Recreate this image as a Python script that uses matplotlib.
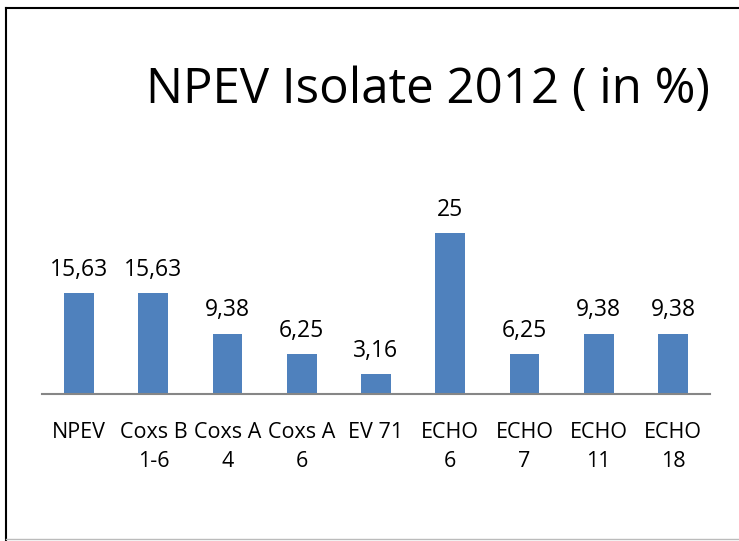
import matplotlib.pyplot as plt
from matplotlib.lines import Line2D

# data
categories = ['NPEV', 'Coxs B\n1-6', 'Coxs A\n4', 'Coxs A\n6', 'EV 71',
              'ECHO\n6', 'ECHO\n7', 'ECHO\n11', 'ECHO\n18']
values = [15.63, 15.63, 9.38, 6.25, 3.16, 25, 6.25, 9.38, 9.38]
value_labels = ['15,63', '15,63', '9,38', '6,25', '3,16', '25', '6,25', '9,38', '9,38']
title = 'NPEV Isolate 2012 ( in %)'

plt.rcParams['font.family'] = ['Open Sans', 'DejaVu Sans']

fig = plt.figure(figsize=(7.39, 5.41), dpi=100)
ax = fig.add_axes([42 / 739, 1 - 394 / 541, 668 / 739, 214 / 541])

x = range(len(categories))
ax.bar(x, values, width=0.4, color='#4F81BD')
ax.set_xlim(-0.5, len(categories) - 0.5)
ax.set_ylim(0, 33.2)

for i, v in enumerate(values):
    ax.annotate(value_labels[i], (i, v), xytext=(0, 8), textcoords='offset points',
                ha='center', va='bottom', fontsize=16.5, color='black')

ax.set_xticks(list(x))
ax.set_xticklabels(categories, fontsize=15.5, linespacing=1.5)
ax.tick_params(axis='x', length=0, pad=20)
ax.set_yticks([])
for s in ['top', 'right', 'left']:
    ax.spines[s].set_visible(False)
ax.spines['bottom'].set_color('#868686')
ax.spines['bottom'].set_linewidth(1.5)

fig.text(428 / 739, 1 - 103 / 541, title, ha='center', va='baseline', fontsize=35.5)

# outer frame
fig.add_artist(Line2D([5.5 / 739, 5.5 / 739], [0, 1 - 8 / 541], color='black', lw=1.5))
fig.add_artist(Line2D([5.5 / 739, 1], [1 - 8 / 541, 1 - 8 / 541], color='black', lw=1.5))
fig.add_artist(Line2D([5.5 / 739, 1], [1 - 539 / 541, 1 - 539 / 541], color='#bbbbbb', lw=1))

fig.savefig('out.png', dpi=100)
